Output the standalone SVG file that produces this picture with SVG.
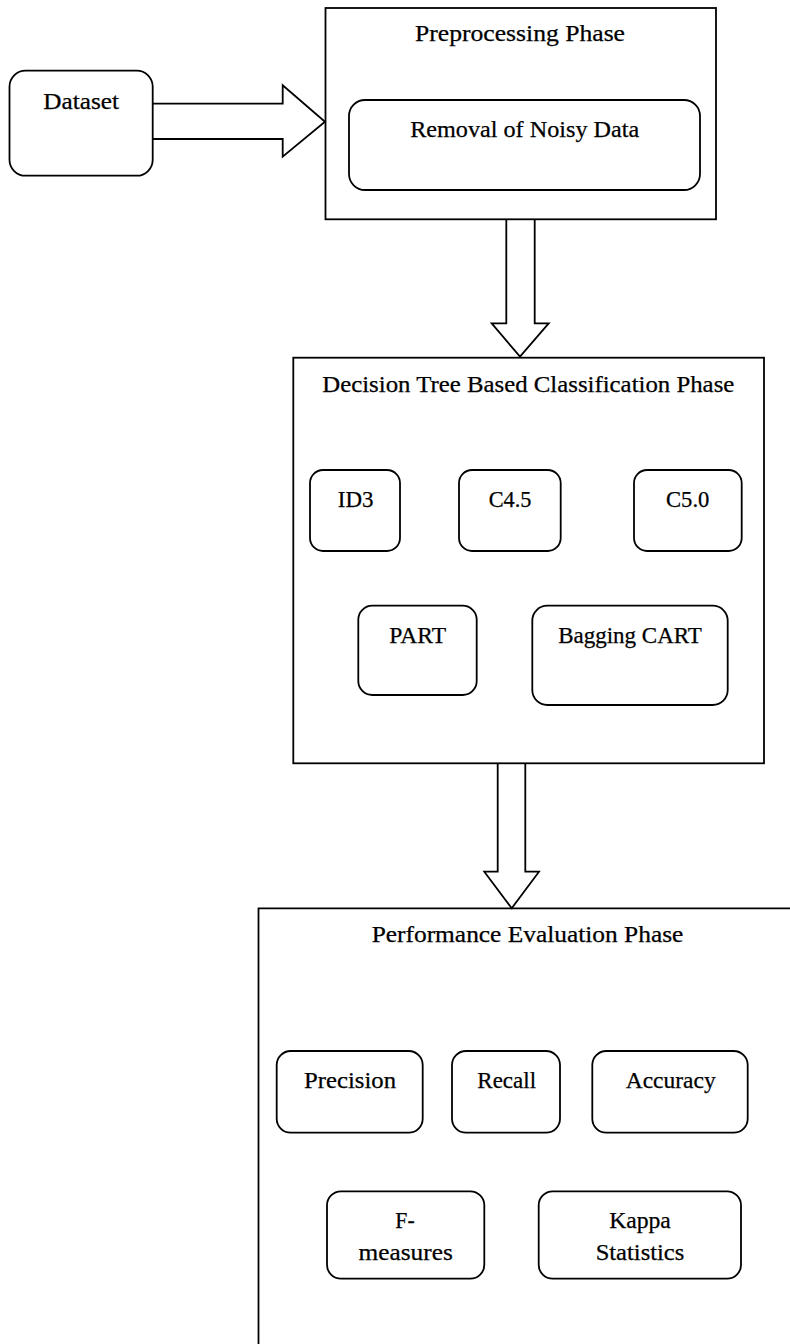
<svg xmlns="http://www.w3.org/2000/svg" width="790" height="1344" viewBox="0 0 790 1344">
<style>
.box{fill:none;stroke:#000;stroke-width:1.8}
.rb{fill:#fff;stroke:#000;stroke-width:1.8}
.arr{fill:#fff;stroke:#000;stroke-width:1.8;stroke-linejoin:miter}
text{font-family:"Liberation Serif","Times New Roman",serif;font-size:22.5px;fill:#000;text-anchor:middle;stroke:#000;stroke-width:0.25}
</style>
<rect width="790" height="1344" fill="#fff"/>
<g id="connectors">
<path class="arr" d="M150,103.7 H282.7 V85.3 L325,121.7 L282.7,156.7 V139 H150"/>
<path class="arr" d="M506.3,219.3 V323.3 H491.7 L520,356.7 L548.7,323.3 H534.7 V219.3"/>
<path class="arr" d="M497.7,763.3 V871.7 H484.3 L511.7,908.3 L539,871.7 H525.3 V763.3"/>
</g>
<g id="dataset">
<rect class="rb" x="9.5" y="70.7" width="143.2" height="105" rx="16"/>
<text x="81.2" y="109.3" textLength="75.7" lengthAdjust="spacingAndGlyphs">Dataset</text>
</g>
<g id="preprocessing">
<rect class="box" x="325.5" y="8" width="390.5" height="211.3"/>
<text x="520" y="40.7" textLength="210" lengthAdjust="spacingAndGlyphs">Preprocessing Phase</text>
<g id="removal">
<rect class="rb" x="349" y="100" width="351" height="90" rx="16"/>
<text x="524.7" y="136.7" textLength="229" lengthAdjust="spacingAndGlyphs">Removal of Noisy Data</text>
</g>
</g>
<g id="classification">
<rect class="box" x="293.3" y="357.7" width="470.7" height="405.6"/>
<text x="528.3" y="391.7" textLength="412" lengthAdjust="spacingAndGlyphs">Decision Tree Based Classification Phase</text>
<g id="id3"><rect class="rb" x="310" y="470" width="90" height="81" rx="13"/><text x="355.7" y="506.7" textLength="35.7" lengthAdjust="spacingAndGlyphs">ID3</text></g>
<g id="c45"><rect class="rb" x="459" y="470" width="101.7" height="81" rx="13"/><text x="510" y="506.7" textLength="42.7" lengthAdjust="spacingAndGlyphs">C4.5</text></g>
<g id="c50"><rect class="rb" x="634" y="470" width="107.7" height="81" rx="13"/><text x="687.7" y="506.7" textLength="43.3" lengthAdjust="spacingAndGlyphs">C5.0</text></g>
<g id="part"><rect class="rb" x="358.3" y="605.7" width="118.4" height="89.3" rx="14"/><text x="417.7" y="643.3" textLength="56.7" lengthAdjust="spacingAndGlyphs">PART</text></g>
<g id="bagging"><rect class="rb" x="532.3" y="605.7" width="195.4" height="99.3" rx="15"/><text x="630" y="643.3" textLength="143.7" lengthAdjust="spacingAndGlyphs">Bagging CART</text></g>
</g>
<g id="performance">
<path class="box" d="M258.5,1350 V908.3 H800"/>
<text x="527.5" y="941.7" textLength="311.7" lengthAdjust="spacingAndGlyphs">Performance Evaluation Phase</text>
<g id="precision"><rect class="rb" x="276.7" y="1051" width="146" height="81.7" rx="14"/><text x="350" y="1088.3" textLength="92" lengthAdjust="spacingAndGlyphs">Precision</text></g>
<g id="recall"><rect class="rb" x="452" y="1051" width="108" height="81.7" rx="14"/><text x="506.7" y="1088.3" textLength="58.7" lengthAdjust="spacingAndGlyphs">Recall</text></g>
<g id="accuracy"><rect class="rb" x="592.3" y="1051" width="155.4" height="81.7" rx="14"/><text x="670.7" y="1088.3" textLength="90" lengthAdjust="spacingAndGlyphs">Accuracy</text></g>
<g id="fmeasures"><rect class="rb" x="327" y="1191.3" width="157.3" height="87.4" rx="14"/><text x="405" y="1228.3" textLength="19.3" lengthAdjust="spacingAndGlyphs">F-</text><text x="405.7" y="1260" textLength="94.3" lengthAdjust="spacingAndGlyphs">measures</text></g>
<g id="kappa"><rect class="rb" x="538.7" y="1191.3" width="202.3" height="87.4" rx="14"/><text x="640" y="1228.3" textLength="61.7" lengthAdjust="spacingAndGlyphs">Kappa</text><text x="640" y="1260" textLength="88.7" lengthAdjust="spacingAndGlyphs">Statistics</text></g>
</g>
</svg>
